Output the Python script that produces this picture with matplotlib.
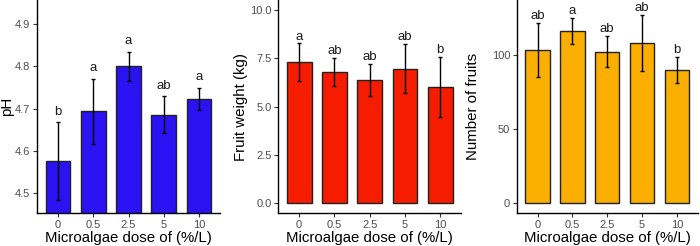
import matplotlib
matplotlib.use("Agg")
import matplotlib.pyplot as plt
import numpy as np

doses = ["0", "0.5", "2.5", "5", "10"]

ph_mean = [4.576, 4.694, 4.800, 4.686, 4.724]
ph_sd = [0.092, 0.077, 0.034, 0.043, 0.026]
ph_letters = ["b", "a", "a", "ab", "a"]

fw_mean = [7.30, 6.81, 6.38, 6.97, 6.04]
fw_sd = [0.98, 0.72, 0.82, 1.26, 1.55]
fw_letters = ["a", "ab", "ab", "ab", "b"]

nf_mean = [103.3, 116.1, 102.2, 108.2, 90.1]
nf_sd = [18.0, 8.9, 10.5, 18.8, 8.7]
nf_letters = ["ab", "a", "ab", "ab", "b"]

plt.rcParams['font.family'] = ['Liberation Sans', 'DejaVu Sans']

W, H = 700, 246
fig = plt.figure(figsize=(7.0, 2.46), dpi=100)

panels = [
    dict(mean=ph_mean, sd=ph_sd, letters=ph_letters, color="#2a12f2",
         ylabel="pH", ylim=(4.453, 4.957), yticks=[4.5, 4.6, 4.7, 4.8, 4.9],
         fmt="{:.1f}", off=5.6, ylx=7.5, rect=[37/W, 1-213.3/H, 183/W, 213.3/H]),
    dict(mean=fw_mean, sd=fw_sd, letters=fw_letters, color="#f51c00",
         ylabel="Fruit weight (kg)", ylim=(-0.52, 10.52), yticks=[0, 2.5, 5.0, 7.5, 10.0],
         fmt="{:.1f}", off=2.7, ylx=240.5, rect=[278/W, 1-213.3/H, 183.4/W, 213.3/H]),
    dict(mean=nf_mean, sd=nf_sd, letters=nf_letters, color="#f9ae00",
         ylabel="Number of fruits", ylim=(-6.7, 137.1), yticks=[0, 50, 100],
         fmt="{:.0f}", off=2.9, ylx=472.5, rect=[516.7/W, 1-213.3/H, 181/W, 213.3/H]),
]

x = np.arange(len(doses))
for p in panels:
    ax = fig.add_axes(p["rect"])
    ax.bar(x, p["mean"], width=0.7, color=p["color"], edgecolor="#222222",
           linewidth=1.0, zorder=2)
    ax.errorbar(x, p["mean"], yerr=p["sd"], fmt="none", ecolor="black",
                elinewidth=1.0, capsize=1.5, capthick=1.0, zorder=3)
    for xi, m, s, lab in zip(x, p["mean"], p["sd"], p["letters"]):
        ax.annotate(lab, (xi, m + s), xytext=(0, p["off"]), textcoords="offset points",
                    ha="center", va="baseline", fontsize=9.5, color="#1a1a1a",
                    annotation_clip=False)
    ax.set_xlim(-0.6, 4.6)
    ax.set_ylim(*p["ylim"])
    ax.set_xticks(x)
    ax.set_xticklabels(doses)
    ax.set_yticks(p["yticks"])
    ax.set_yticklabels([p["fmt"].format(v) for v in p["yticks"]])
    ax.tick_params(axis="both", labelsize=8, labelcolor="#4d4d4d",
                   color="#333333", length=2.75, width=0.8, pad=2)
    for s in ["top", "right"]:
        ax.spines[s].set_visible(False)
    for s in ["left", "bottom"]:
        ax.spines[s].set_linewidth(1.0)
        ax.spines[s].set_color("black")
    ax.set_xlabel("Microalgae dose of (%/L)", fontsize=10.8, color="black", labelpad=1)
    cy = p["rect"][1] + p["rect"][3] / 2
    fig.text(p["ylx"] / W, cy, p["ylabel"], rotation=90, ha="center", va="center",
             fontsize=10.8, color="black")

fig.savefig("out.png", dpi=100)
